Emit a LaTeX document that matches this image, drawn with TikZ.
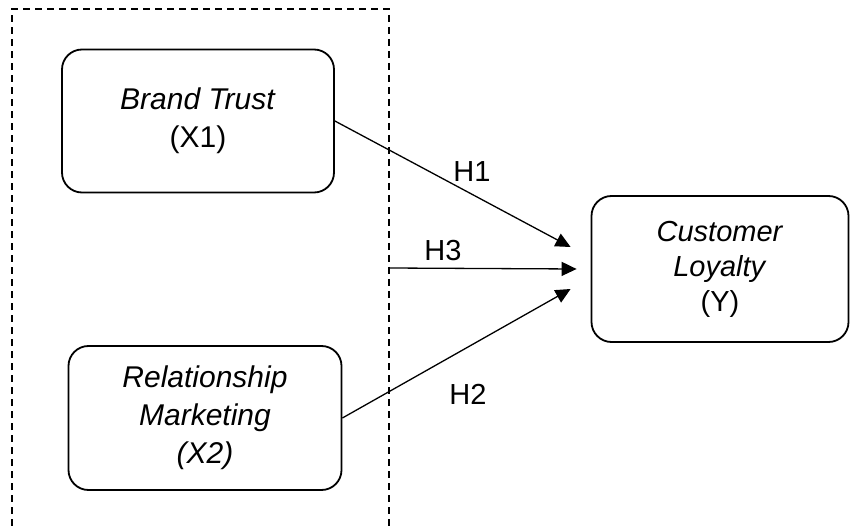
\documentclass[tikz,border=0pt]{standalone}
\usepackage{fontspec}
\setmainfont{Liberation Sans}
\usetikzlibrary{arrows.meta}

\begin{document}
\begin{tikzpicture}[x=1pt,y=-1pt,
  var/.style={draw,line width=1.8pt,rounded corners=20pt,align=center,font=\fontsize{30}{38}\selectfont},
  link/.style={line width=1.3pt,-{Triangle[length=15pt,width=14pt]}},
  hyp/.style={font=\fontsize{29}{30}\selectfont}]
\useasboundingbox (0,0) rectangle (853,526);
\draw [line width=1.3pt,dash pattern=on 7pt off 5pt] (12,526) -- (12,9) -- (389,9) -- (389,526);
\node[var,minimum width=272pt,minimum height=143pt] (trust) at (198,121) {\textit{Brand Trust}\\(X1)};
\node[var,minimum width=273pt,minimum height=144pt] (relmark) at (205,418) {\textit{Relationship}\\\textit{Marketing}\\\textit{(X2)}};
\node[var,minimum width=257pt,minimum height=146pt,font=\fontsize{29}{35}\selectfont] (loyal) at (720,269) {\textit{Customer}\\\textit{Loyalty}\\(Y)};
\coordinate (h3from) at (389,268);
\draw [link] (trust.east) -- ([shift={(-20,-22)}]loyal.west);
\draw [link] (h3from) -- ([shift={(-14,0)}]loyal.west);
\draw [link] (relmark.east) -- ([shift={(-20,20)}]loyal.west);
\node[hyp] (h1) at (472,172) {H1}; \node[hyp] (h3) at (443,251) {H3}; \node[hyp] (h2) at (468,394) {H2};
\end{tikzpicture}
\end{document}
